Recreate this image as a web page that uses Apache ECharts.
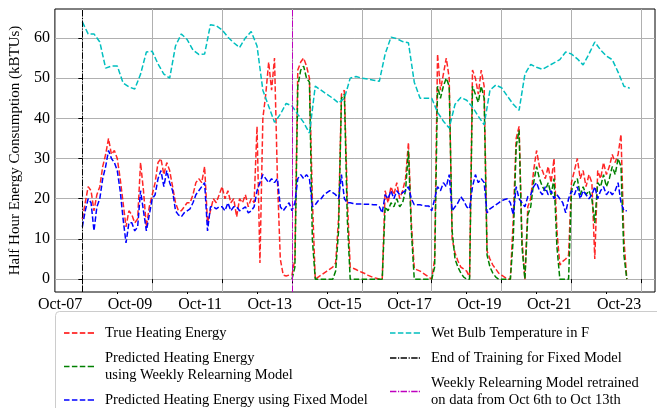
<!DOCTYPE html>
<html><head><meta charset="utf-8">
<script src="https://cdn.jsdelivr.net/npm/echarts@6/dist/echarts.min.js"></script>
<style>html,body{margin:0;padding:0;background:#fff}#c{width:657px;height:408px}</style>
</head><body><div id="c"></div>
<script>
// ---- axis ticks (days since Oct 7 00:00) ----
const tickDays = [0, 2, 4, 6, 8, 10, 12, 14, 16];
const tickLabels = ['Oct-07', 'Oct-09', 'Oct-11', 'Oct-13', 'Oct-15', 'Oct-17', 'Oct-19', 'Oct-21', 'Oct-23'];
const minorDays = [1, 3, 5, 7, 9, 11, 13, 15];
const yTicks = [0, 10, 20, 30, 40, 50, 60];

// ---- series values: 2-hour samples from Oct 7 00:00 ----
const energyStepDays = 1 / 12;
const trueHeating = [
  15,19,23,22,17,21,23,28,31,35,31,32,
  30,25,19,13,17,16,14,15,29,22,13,18,
  21,24,29,30,26,29,27,23,19,17,17,18,
  19,19,21,24,25,24,28,14,17,20,19,21,
  23,20,22,19,20,15.5,20,19,21,18,20,19,
  38,4,40,46,54,47,55,25,5,1,0.8,1,
  1,5,52,54,55,53,50,20,0,0.5,1,1.5,
  2,2.5,3,4,15,46,47,20,3,2.7,2.4,2,
  1.7,1.4,1,0.7,0.4,0.2,0,0,22,19,23,21,
  24,20,22,25,34,14,2.7,2.3,2,1.5,1,0.5,
  0,5,56,47,51,55,50,10,6.5,4.5,3,2.5,
  2,0.5,52,50,46,52,48,7,5,3.5,2.5,1.5,
  1,0.5,0,0,15,35,38,10,0,18,20,27,
  32,28,27,25,28,24,30,12,3.5,4.4,5,6,
  24,27,30,25,27,23,26,24,5,27,25,29,
  26,28,31,29,31,36,10,0
];
const fixedModel = [
  13,17,20,19,12,18,20,25,28,32,30,29,
  27,22,15,9,14,14,12,13,22,17,12,16,
  20,21,25,27,23,27,24,22,17,16,15.5,16.5,
  17,17.5,19,21,22,23,24,12,18,18,17.5,18,
  18,17,19,17,18,18,17,17.5,18,16.5,17,18,
  22,24,26,25,24,25,24,25,18,17,18,19,
  17,19,25,26,25,26,25,18,18.5,19.5,20,21,
  21.5,22,21.5,21,20,26,20,19,19,18.8,18.7,18.7,
  18.7,18.6,18.6,18.6,18.5,18.5,18,16.5,21,20,22,20,
  22,21,21.5,22,23,20,18.5,18.5,18.5,18.3,18.2,18.2,
  17,20,23,22,24,23,26,17,18,19,20.5,19.5,
  18,17.5,23,26,24,25,24,16.5,17.5,18,18.5,19,
  19.5,19.8,20,19,16,23,20,19,18,20.5,21,23,
  24,22,21,23,21,22,20,21,20,19,16.5,20,
  22,21,23,20,22,21,20,21,23,20,22,23,
  21,22,21,22,24,19,17,17
];
// weekly relearning model starts Oct 13 00:00
const weeklyStartDay = 6;
const weeklyModel = [
  0,3,48,52,53,50,49,10,0,0,0,0,
  0,0,0,2,12,45,46,15,0,0,0,0,
  0,0,0,0,0,0,0,0,18,17,19,18,
  20,18,19,22,32,12,0,0,0,0,0,0,
  0,3,48,45,48,50,48,12,5,3,1.5,0.5,
  0,0,48,46,44,48,45,6,3,1.5,0.5,0,
  0,0,0,0,10,33,37,8,0,16,18,24,
  28,25,23,22,24,21,25,8,0,0,0,0,
  22,24,25,21,23,21,22,20,14,24,23,26,
  23,25,28,26,30,28,6,0
];
// wet bulb temperature: 4-hour samples from Oct 7 00:00
const wetBulbStepDays = 1 / 6;
const wetBulb = [
  64,61,61,59,52.5,53,
  53,48.8,47.8,47.3,51,56.5,
  56.7,53.5,51,50,58,61,
  59.6,57,55.9,56,63.3,63,
  62,60.2,58.8,57.6,60,61.6,
  58,47,43,39,41,43.7,
  43.1,41,39,36.3,48,47,
  46,45,43.8,45,50,50.4,
  50,49.8,49.5,49.2,56,60.2,
  59.8,59.1,58.8,49,45,45,
  45,41.5,39.3,37.6,43.5,45.2,
  44.5,42.8,40.5,38.4,47,48.3,
  47.6,45.5,43.5,42,51,53.4,
  52.7,52.2,53,53.8,54.6,56.5,
  56,54.8,53.3,56,59,57,
  55.5,54.6,51.5,48,47.5
];
const fixedTrainEndDay = 0;
const retrainDay = 6;

const names = {
  tr: 'True Heating Energy',
  wk: 'Predicted Heating Energy\nusing Weekly Relearning Model',
  fx: 'Predicted Heating Energy using Fixed Model',
  wb: 'Wet Bulb Temperature in F',
  end: 'End of Training for Fixed Model',
  re: 'Weekly Relearning Model retrained\non data from Oct 6th to Oct 13th'
};
const colors = { tr: '#ff0000', wk: '#008000', fx: '#0000ff', wb: '#00bfbf', end: '#000000', re: '#bf00bf' };
const pairs = (arr, start, step) => arr.map((v, i) => [start + i * step, v]);
const FONT = 'Liberation Serif';
const dashIcon = 'path://M0,0h5.5v1.5h-5.5zM7.9,0h5.5v1.5h-5.5zM15.8,0h5.5v1.5h-5.5zM23.7,0h6.3v1.5h-6.3z';
const dashDotIcon = 'path://M0,0h6.4v1.5h-6.4zM8,0h1.2v1.5h-1.2zM10.6,0h6.4v1.5h-6.4zM18.6,0h1.2v1.5h-1.2zM21.2,0h6.4v1.5h-6.4zM28.8,0h1.2v1.5h-1.2z';
const dash = [5.5, 2.4];
const dashDot = [6.4, 1.6, 1, 1.6];

function lineSeries(name, data, color, opacity) {
  return {
    type: 'line', name, data, symbol: 'none', showSymbol: false,
    lineStyle: { color, width: 1.5, type: dash, opacity: opacity || 1 },
    itemStyle: { color }, animation: false, silent: true
  };
}
function vLine(name, day, color) {
  return {
    type: 'line', name, data: [], symbol: 'none', itemStyle: { color }, color,
    lineStyle: { color, width: 1, type: dashDot }, silent: true, animation: false,
    markLine: {
      symbol: 'none', silent: true, animation: false, label: { show: false },
      lineStyle: { color, width: 1, type: dashDot },
      data: [{ xAxis: day }]
    }
  };
}
const legendItem = (key, icon) => ({ name: names[key], icon, itemStyle: { color: colors[key] } });
const legendText = { fontFamily: FONT, fontSize: 14.5, color: '#000', lineHeight: 17, padding: [0, 0, 0, 6] };

const chart = echarts.init(document.getElementById('c'), null, { renderer: 'canvas' });
chart.setOption({
  backgroundColor: '#fff',
  animation: false,
  grid: { left: 50, top: 9, right: 2, bottom: 116, show: true, borderColor: '#000', borderWidth: 1, containLabel: false },
  graphic: [{
    type: 'rect', left: 55, top: 311, z: 1,
    shape: { width: 630, height: 120, r: 4 },
    style: { fill: '#fff', stroke: '#cccccc', lineWidth: 1 }
  }],
  legend: [{
    type: 'plain', left: 59, top: 319.5, width: 320, height: 200, orient: 'vertical', itemGap: 8, itemWidth: 30, itemHeight: 1.5,
    selectedMode: false, textStyle: legendText, z: 5,
    data: [legendItem('tr', dashIcon), legendItem('wk', dashIcon), legendItem('fx', dashIcon)]
  }, {
    type: 'plain', left: 385, top: 319.5, width: 270, height: 200, orient: 'vertical', itemGap: 8, itemWidth: 30, itemHeight: 1.5,
    selectedMode: false, textStyle: legendText, z: 5,
    data: [legendItem('wb', dashIcon), legendItem('end', dashDotIcon), legendItem('re', dashDotIcon)]
  }],
  xAxis: [{
    type: 'value', min: -0.785, max: 16.39, gridIndex: 0,
    axisLine: { show: false },
    axisTick: { show: true, customValues: tickDays, length: 4, inside: false, lineStyle: { color: '#000' } },
    axisLabel: {
      show: true, customValues: tickDays, align: 'right', margin: 5,
      fontFamily: FONT, fontSize: 16, color: '#000',
      formatter: v => tickLabels[tickDays.indexOf(Math.round(v))] || ''
    },
    splitLine: { show: true, lineStyle: { color: '#b0b0b0', width: 1 } }
  }, {
    type: 'value', min: -0.785, max: 16.39, gridIndex: 0, position: 'bottom',
    axisLine: { show: false },
    axisTick: { show: true, customValues: minorDays, length: 2, lineStyle: { color: '#000' } },
    axisLabel: { show: false }, splitLine: { show: false }
  }],
  yAxis: {
    type: 'value', min: -3.2, max: 67.2,
    name: 'Half Hour Energy Consumption (kBTUs)', nameLocation: 'middle', nameGap: 21,
    nameTextStyle: { fontFamily: FONT, fontSize: 15, color: '#000' },
    axisLine: { show: false },
    axisTick: { show: true, customValues: yTicks, length: 4, lineStyle: { color: '#000' } },
    axisLabel: { show: true, customValues: yTicks, margin: 5, fontFamily: FONT, fontSize: 16, color: '#000' },
    splitLine: { show: true, lineStyle: { color: '#b0b0b0', width: 1 } }
  },
  series: [
    lineSeries(names.tr, pairs(trueHeating, 0, energyStepDays), colors.tr, 0.85),
    lineSeries(names.wk, pairs(weeklyModel, weeklyStartDay, energyStepDays), colors.wk),
    lineSeries(names.fx, pairs(fixedModel, 0, energyStepDays), colors.fx),
    lineSeries(names.wb, pairs(wetBulb, 0, wetBulbStepDays), colors.wb),
    vLine(names.end, fixedTrainEndDay, colors.end),
    vLine(names.re, retrainDay, colors.re)
  ]
});
</script>
</body></html>
